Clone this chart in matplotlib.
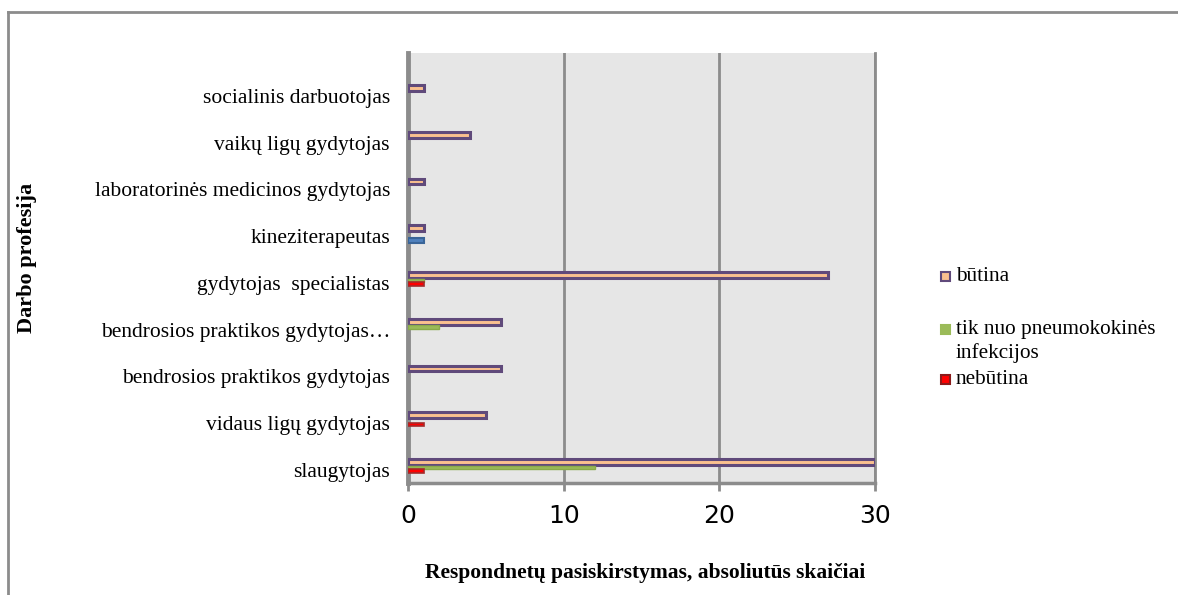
import numpy as np
import matplotlib.pyplot as plt
from matplotlib.patches import Rectangle
from matplotlib.lines import Line2D

# profesijos (apačia -> viršus)
professions = ['slaugytojas', 'vidaus ligų gydytojas', 'bendrosios praktikos gydytojas',
               'bendrosios praktikos gydytojas…', 'gydytojas  specialistas',
               'kineziterapeutas', 'laboratorinės medicinos gydytojas',
               'vaikų ligų gydytojas', 'socialinis darbuotojas']
butina = np.array([30, 5, 6, 6, 27, 1, 1, 4, 1])
tik_pneumo = np.array([12, 0, 0, 2, 1, 0, 0, 0, 0])
nebutina = np.array([1, 1, 0, 0, 1, 0, 0, 0, 0])
kita = np.array([0, 0, 0, 0, 0, 1, 0, 0, 0])
xticks = [0, 10, 20, 30]

plt.rcParams['font.family'] = ['Liberation Serif', 'DejaVu Serif']

fig = plt.figure(figsize=(11.78, 5.95), dpi=100)
W, H = 1178, 595
ax = fig.add_axes([408 / W, 1 - 483 / H, (875 - 408) / W, (483 - 53) / H])
ax.set_facecolor('#e6e6e6')

y = np.arange(len(professions))


def bars(vals, offset, h, fc, ec, lw, z=3):
    m = vals > 0  # nulinių reikšmių nepiešiam
    ax.barh(y[m] + offset, vals[m], height=h, color=fc, edgecolor=ec, linewidth=lw, zorder=z)


bars(butina, 0.17, 0.12, '#fac08f', '#604a7b', 2.2)
bars(kita, -0.09, 0.11, '#4f81bd', '#3a6598', 1.5)
bars(tik_pneumo, 0.05, 0.08, '#9bbb59', '#8aab4a', 1)
bars(nebutina, -0.03, 0.08, '#ff0000', '#a52a2a', 1.2, z=4)

ax.set_xlim(0, 30)
ax.set_ylim(-0.28, 8.92)
ax.set_xticks(xticks)
ax.set_xticklabels([str(v) for v in xticks], family='DejaVu Sans', fontsize=18)
ax.set_yticks(y)
ax.set_yticklabels(professions, fontsize=15.5)
ax.tick_params(axis='y', length=0, pad=13)
ax.tick_params(axis='x', length=6, width=2, color='#8c8c8c', direction='out', pad=9)
ax.grid(axis='x', color='#8c8c8c', linewidth=2, zorder=1)
ax.set_axisbelow(True)
ax.spines['top'].set_visible(False)
ax.spines['left'].set_color('#8c8c8c')
ax.spines['left'].set_linewidth(3.5)
ax.spines['bottom'].set_color('#8c8c8c')
ax.spines['bottom'].set_linewidth(2.5)
ax.spines['right'].set_color('#8c8c8c')
ax.spines['right'].set_linewidth(2)

fig.text(645 / W, 1 - 573 / H, 'Respondnetų pasiskirstymas, absoliutūs skaičiai',
         ha='center', va='center', fontsize=15.5, fontweight='bold')
fig.text(27 / W, 1 - 258 / H, 'Darbo profesija', ha='center', va='center',
         rotation=90, fontsize=16, fontweight='bold')

# legenda
legend = [('būtina', 277, '#fac08f', '#604a7b'),
          ('tik nuo pneumokokinės\ninfekcijos', 330, '#9bbb59', '#9bbb59'),
          ('nebūtina', 380, '#ff0000', '#8b1a1a')]
for label, ly, fc, ec in legend:
    fig.patches.append(Rectangle((941 / W, 1 - (ly + 4) / H), 9 / W, 9 / H,
                                 facecolor=fc, edgecolor=ec, linewidth=1.5,
                                 transform=fig.transFigure))
    fig.text(956 / W, 1 - (ly - 10) / H, label, ha='left', va='top',
             fontsize=15.3, linespacing=1.25)

# rėmelis
fig.add_artist(Line2D([8 / W, 1], [1 - 12 / H, 1 - 12 / H], color='#8c8c8c', linewidth=2,
                      transform=fig.transFigure))
fig.add_artist(Line2D([8 / W, 8 / W], [0, 1 - 12 / H], color='#8c8c8c', linewidth=2,
                      transform=fig.transFigure))

fig.savefig('out.png', dpi=100)
